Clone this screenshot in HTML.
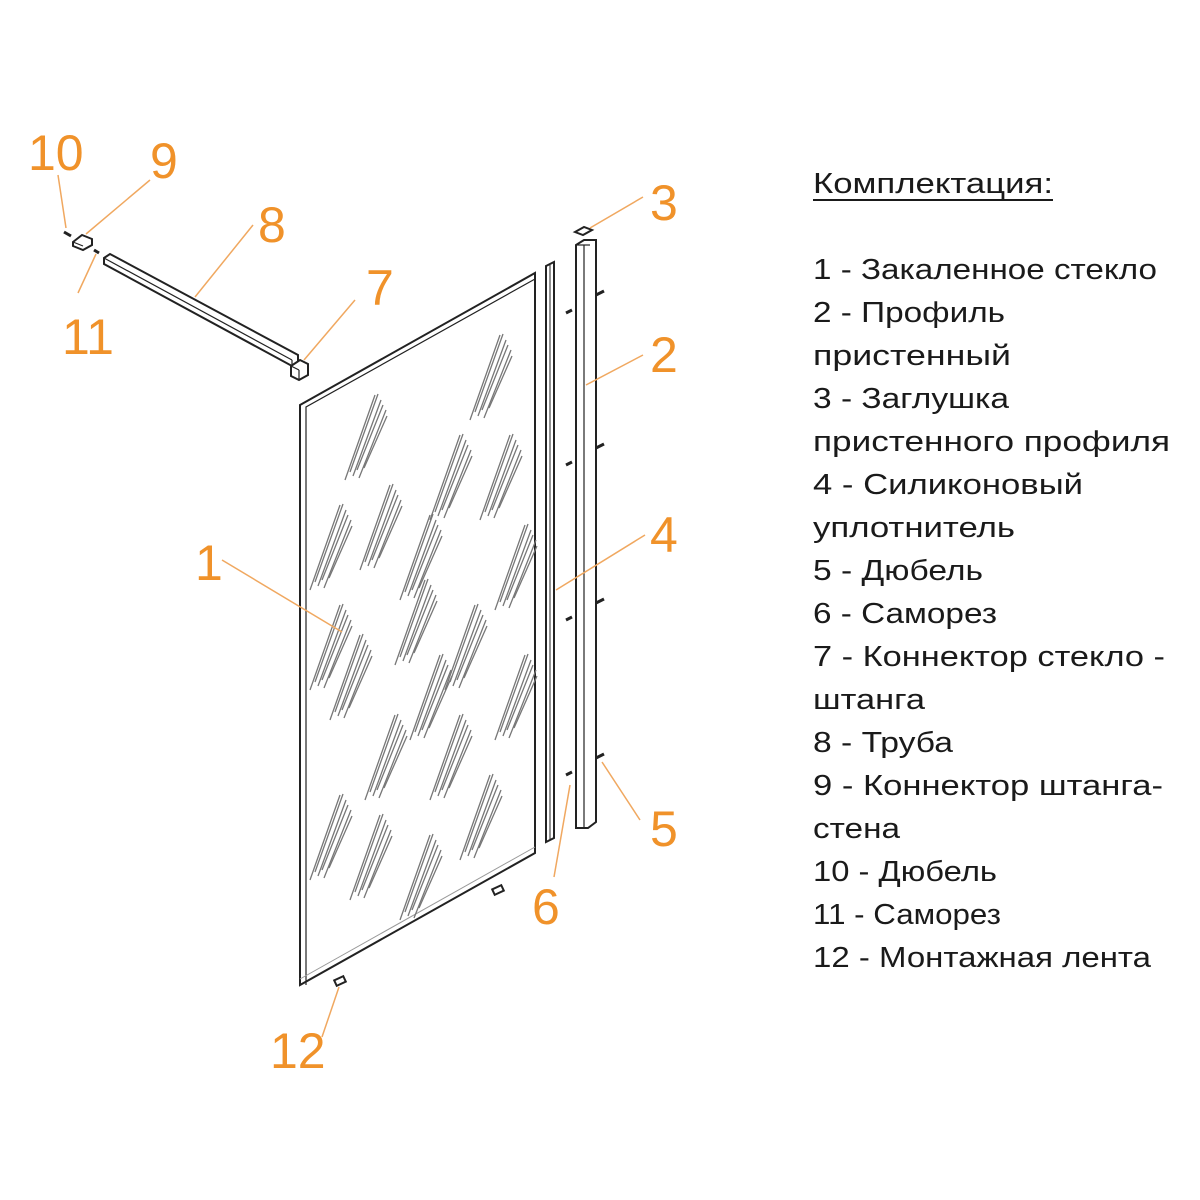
<!DOCTYPE html>
<html><head><meta charset="utf-8"><style>
html,body{margin:0;padding:0;background:#fff;}
svg{display:block;}
.t{font-family:"Liberation Sans","DejaVu Sans",sans-serif;font-size:29px;fill:#1a1a1a;}
.n{font-family:"Liberation Sans","DejaVu Sans",sans-serif;font-size:50px;fill:#f0922a;}
.l{stroke:#f0a860;stroke-width:1.5;fill:none;}
.k{stroke:#222;stroke-width:2;fill:#fff;}
.s{stroke:#777;stroke-width:1.3;}
</style></head><body>
<svg width="1200" height="1200" viewBox="0 0 1200 1200" xmlns="http://www.w3.org/2000/svg">
<defs>
<g id="st">
<line class="s" x1="0" y1="0" x2="30" y2="-85"/>
<line class="s" x1="5" y1="-8" x2="33" y2="-86"/>
<line class="s" x1="8" y1="-4" x2="36" y2="-80"/>
<line class="s" x1="12" y1="-10" x2="38" y2="-75"/>
<line class="s" x1="14" y1="-2" x2="41" y2="-70"/>
<line class="s" x1="19" y1="-12" x2="42" y2="-64"/>
</g>
</defs>
<!-- glass -->
<polygon points="300,405 535,273 535,853 300,985" fill="#fff" stroke="#222" stroke-width="2"/>
<polyline points="306,985 306,407 535,279" fill="none" stroke="#222" stroke-width="1.2"/>
<line x1="300" y1="979" x2="535" y2="847" stroke="#999" stroke-width="1"/>
<g>
<use href="#st" x="345" y="480"/><use href="#st" x="360" y="570"/>
<use href="#st" x="430" y="520"/><use href="#st" x="480" y="520"/>
<use href="#st" x="470" y="420"/><use href="#st" x="310" y="590"/>
<use href="#st" x="400" y="600"/><use href="#st" x="495" y="610"/>
<use href="#st" x="395" y="665"/><use href="#st" x="445" y="690"/>
<use href="#st" x="330" y="720"/><use href="#st" x="310" y="690"/>
<use href="#st" x="495" y="740"/><use href="#st" x="365" y="800"/>
<use href="#st" x="430" y="800"/><use href="#st" x="310" y="880"/>
<use href="#st" x="350" y="900"/><use href="#st" x="400" y="920"/>
<use href="#st" x="460" y="860"/><use href="#st" x="410" y="740"/>
</g>
<!-- bottom tapes -->
<rect x="335" y="978" width="10" height="6" class="k" stroke-width="1.5" transform="rotate(-25 340 981)"/>
<rect x="493" y="887" width="10" height="6" class="k" stroke-width="1.5" transform="rotate(-25 498 890)"/>
<!-- strip 4 -->
<polygon points="546,266 554,262 554,838 546,842" class="k" stroke-width="1.8"/>
<line x1="550" y1="265" x2="550" y2="840" stroke="#222" stroke-width="1"/>
<!-- profile 2 -->
<polygon points="576,245 584,240 596,240 596,822 588,828 576,828" class="k" stroke-width="1.8"/>
<line x1="584" y1="245" x2="584" y2="828" stroke="#222" stroke-width="1.2"/>
<line x1="576" y1="245" x2="590" y2="245" stroke="#222" stroke-width="1.2"/>
<!-- cap 3 -->
<polygon points="575,232 584,227 592,230 583,235" class="k" stroke-width="1.5"/>
<!-- dowels 5 and screws 6 -->
<g stroke="#222" stroke-width="3">
<line x1="596" y1="295" x2="604" y2="291"/><line x1="566" y1="313" x2="572" y2="310"/>
<line x1="596" y1="448" x2="604" y2="444"/><line x1="566" y1="465" x2="572" y2="462"/>
<line x1="596" y1="603" x2="604" y2="599"/><line x1="566" y1="620" x2="572" y2="617"/>
<line x1="596" y1="758" x2="604" y2="754"/><line x1="566" y1="775" x2="572" y2="772"/>
</g>
<!-- tube 8 -->
<polygon points="104,258 110,254 298,355 298,362 292,366 104,264" class="k" stroke-width="1.8"/>
<line x1="104" y1="258" x2="292" y2="360" stroke="#222" stroke-width="1.2"/>
<line x1="292" y1="360" x2="292" y2="366" stroke="#222" stroke-width="1.2"/>
<!-- connector 7 -->
<polygon points="291,366 300,360 308,364 308,375 299,380 291,376" class="k" stroke-width="1.8"/>
<line x1="291" y1="366" x2="299" y2="370" stroke="#222" stroke-width="1.2"/><line x1="299" y1="370" x2="299" y2="380" stroke="#222" stroke-width="1.2"/>
<!-- connector 9 -->
<polygon points="73,242 82,235 92,239 92,245 83,250 73,246" class="k" stroke-width="1.8"/>
<line x1="73" y1="242" x2="83" y2="246" stroke="#222" stroke-width="1.2"/>
<g stroke="#222" stroke-width="3"><line x1="64" y1="232" x2="71" y2="236"/><line x1="94" y1="250" x2="99" y2="253"/></g>
<!-- leaders -->
<line class="l" x1="58" y1="175" x2="66" y2="228"/>
<line class="l" x1="150" y1="180" x2="86" y2="234"/>
<line class="l" x1="78" y1="293" x2="96" y2="254"/>
<line class="l" x1="253" y1="225" x2="195" y2="297"/>
<line class="l" x1="355" y1="300" x2="304" y2="360"/>
<line class="l" x1="643" y1="197" x2="590" y2="228"/>
<line class="l" x1="643" y1="355" x2="586" y2="385"/>
<line class="l" x1="645" y1="535" x2="556" y2="590"/>
<line class="l" x1="222" y1="560" x2="342" y2="632"/>
<line class="l" x1="640" y1="820" x2="602" y2="762"/>
<line class="l" x1="554" y1="877" x2="570" y2="785"/>
<line class="l" x1="322" y1="1037" x2="339" y2="987"/>
<!-- numbers -->
<text class="n" x="28" y="170">10</text>
<text class="n" x="150" y="178">9</text>
<text class="n" x="258" y="242">8</text>
<text class="n" x="62" y="354">11</text>
<text class="n" x="366" y="305">7</text>
<text class="n" x="650" y="220">3</text>
<text class="n" x="650" y="372">2</text>
<text class="n" x="650" y="552">4</text>
<text class="n" x="195" y="580">1</text>
<text class="n" x="650" y="846">5</text>
<text class="n" x="532" y="924">6</text>
<text class="n" x="270" y="1068">12</text>
<!-- list -->
<text class="t" x="813" y="193" textLength="240" lengthAdjust="spacingAndGlyphs">Комплектация:</text>
<line x1="813" y1="200" x2="1053" y2="200" stroke="#1a1a1a" stroke-width="2"/>
<text class="t" x="813" y="279" textLength="344" lengthAdjust="spacingAndGlyphs">1 - Закаленное стекло</text>
<text class="t" x="813" y="322" textLength="192" lengthAdjust="spacingAndGlyphs">2 - Профиль</text>
<text class="t" x="813" y="365" textLength="198" lengthAdjust="spacingAndGlyphs">пристенный</text>
<text class="t" x="813" y="408" textLength="196" lengthAdjust="spacingAndGlyphs">3 - Заглушка</text>
<text class="t" x="813" y="451" textLength="357" lengthAdjust="spacingAndGlyphs">пристенного профиля</text>
<text class="t" x="813" y="494" textLength="270" lengthAdjust="spacingAndGlyphs">4 - Силиконовый</text>
<text class="t" x="813" y="537" textLength="202" lengthAdjust="spacingAndGlyphs">уплотнитель</text>
<text class="t" x="813" y="580" textLength="170" lengthAdjust="spacingAndGlyphs">5 - Дюбель</text>
<text class="t" x="813" y="623" textLength="184" lengthAdjust="spacingAndGlyphs">6 - Саморез</text>
<text class="t" x="813" y="666" textLength="352" lengthAdjust="spacingAndGlyphs">7 - Коннектор стекло -</text>
<text class="t" x="813" y="709" textLength="112" lengthAdjust="spacingAndGlyphs">штанга</text>
<text class="t" x="813" y="752" textLength="140" lengthAdjust="spacingAndGlyphs">8 - Труба</text>
<text class="t" x="813" y="795" textLength="350" lengthAdjust="spacingAndGlyphs">9 - Коннектор штанга-</text>
<text class="t" x="813" y="838" textLength="87" lengthAdjust="spacingAndGlyphs">стена</text>
<text class="t" x="813" y="881" textLength="184" lengthAdjust="spacingAndGlyphs">10 - Дюбель</text>
<text class="t" x="813" y="924" textLength="188" lengthAdjust="spacingAndGlyphs">11 - Саморез</text>
<text class="t" x="813" y="967" textLength="338" lengthAdjust="spacingAndGlyphs">12 - Монтажная лента</text>
</svg>
</body></html>
